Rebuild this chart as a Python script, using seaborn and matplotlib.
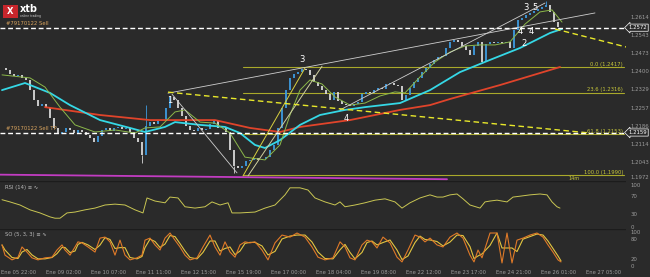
import numpy as np
import pandas as pd
import matplotlib
matplotlib.use("Agg")
import matplotlib.pyplot as plt
from matplotlib.patches import Rectangle
import matplotlib.transforms as mtransforms
import seaborn as sns

# ---------------- data (one bar = ~2.5 h) ----------------
close = [1.2413, 1.2405, 1.2389, 1.2382, 1.2386, 1.2374, 1.2366, 1.2326, 1.2287, 1.2263,
         1.2271, 1.2256, 1.2216, 1.2177, 1.2153, 1.2161, 1.2177, 1.2169, 1.2157, 1.2169,
         1.2161, 1.2149, 1.2137, 1.2122, 1.2145, 1.2169, 1.2177, 1.2165, 1.2177, 1.2181,
         1.2173, 1.2177, 1.2161, 1.2137, 1.2122, 1.2070, 1.2185, 1.2200, 1.2192, 1.2204,
         1.2208, 1.2256, 1.2299, 1.2287, 1.2256, 1.2224, 1.2185, 1.2169, 1.2165, 1.2177,
         1.2169, 1.2173, 1.2192, 1.2208, 1.2177, 1.2181, 1.2161, 1.2090, 1.2027, 1.2019,
         1.2027, 1.2047, 1.2051, 1.2059, 1.2051, 1.2055, 1.2062, 1.2090, 1.2110, 1.2177,
         1.2256, 1.2326, 1.2374, 1.2389, 1.2397, 1.2409, 1.2405, 1.2386, 1.2358, 1.2342,
         1.2326, 1.2311, 1.2287, 1.2319, 1.2283, 1.2271, 1.2267, 1.2263, 1.2271, 1.2279,
         1.2311, 1.2319, 1.2315, 1.2326, 1.2334, 1.2330, 1.2350, 1.2354, 1.2346, 1.2342,
         1.2287, 1.2307, 1.2334, 1.2358, 1.2374, 1.2397, 1.2413, 1.2429, 1.2445, 1.2456,
         1.2460, 1.2492, 1.2516, 1.2523, 1.2516, 1.2500, 1.2484, 1.2464, 1.2500, 1.2516,
         1.2437, 1.2508, 1.2516, 1.2512, 1.2516, 1.2512, 1.2516, 1.2492, 1.2563, 1.2602,
         1.2610, 1.2622, 1.2630, 1.2638, 1.2646, 1.2653, 1.2661, 1.2634, 1.2594, 1.2575]

# notable wicks (bar, extreme price)
wick_bar = [35, 36, 58, 120, 136]
wick_price = [1.2039, 1.2267, 1.2000, 1.2433, 1.2676]

cyan_t = [0, 5.75, 12, 17, 24.5, 32, 35.75, 40.75, 43.25, 49.5, 55.75, 59.5, 63.25,
          65.75, 69.5, 74.5, 79.5, 85.75, 90.75, 99.5, 107, 114.5, 122, 129.5, 137, 140]
cyan_v = [1.2326, 1.2354, 1.2315, 1.2267, 1.2208, 1.2177, 1.2161, 1.2181, 1.2200, 1.2189,
          1.2181, 1.2157, 1.2110, 1.2098, 1.2129, 1.2189, 1.2228, 1.2248, 1.2259, 1.2275,
          1.2326, 1.2397, 1.2445, 1.2492, 1.2551, 1.2567]

red_t = [10.75, 24.5, 37, 53.25, 62, 69.5, 74.5, 87, 99.5, 107, 112, 124.5, 139.5]
red_v = [1.2259, 1.2228, 1.2208, 1.2208, 1.2177, 1.2161, 1.2181, 1.2208, 1.2248, 1.2267,
         1.2291, 1.2346, 1.2417]

green_t = [0, 7, 10.75, 14.5, 18.25, 23.25, 28.25, 33.25, 35.75, 39.5, 43.25, 45.75, 49.5,
           53.25, 57, 60.75, 65.75, 69.5, 72, 74.5, 77, 80, 83.25, 87, 90.75, 94.5, 98.25,
           100.75, 104.5, 108.25, 112, 115.75, 119.5, 123.25, 127, 130.75, 134.5, 137.5, 140]
green_v = [1.2386, 1.2374, 1.2338, 1.2259, 1.2189, 1.2161, 1.2169, 1.2157, 1.2177, 1.2181,
           1.2240, 1.2248, 1.2200, 1.2196, 1.2157, 1.2062, 1.2051, 1.2110, 1.2228, 1.2326,
           1.2366, 1.2350, 1.2299, 1.2267, 1.2275, 1.2303, 1.2319, 1.2315, 1.2378, 1.2437,
           1.2476, 1.2500, 1.2504, 1.2504, 1.2516, 1.2586, 1.2634, 1.2642, 1.2594]

rsi_t = [0, 2, 4.5, 7, 9.5, 12, 13.25, 14.5, 16.25, 18.25, 20.75, 23.25, 25.75, 28.25,
         30.75, 33.25, 35.25, 36.25, 38.25, 40.75, 42, 44, 45.75, 48.25, 50.75, 52.5, 54.5,
         56.5, 57.5, 59.5, 63.25, 65.75, 68.25, 70.75, 72, 74.5, 76.5, 78.25, 80.75, 83.25,
         84.5, 85.75, 88.25, 90.75, 93.25, 95.75, 98.25, 100, 102, 104.5, 107, 108.75,
         110.25, 112, 113.75, 115.25, 117, 119.5, 120.75, 122, 123.75, 126.25, 127.75,
         129.5, 132, 134.5, 136.25, 137.5, 138.75, 139.5]
rsi_v = [62, 57, 50, 39, 32, 23, 20, 20, 32, 34, 39, 43, 50, 52, 50, 39, 32, 66, 59, 55,
         68, 66, 46, 43, 46, 57, 50, 55, 32, 32, 34, 43, 50, 73, 89, 89, 84, 66, 57, 50,
         57, 46, 50, 55, 61, 64, 57, 43, 55, 66, 73, 68, 68, 73, 75, 64, 50, 43, 57, 59,
         61, 57, 68, 70, 73, 75, 73, 57, 46, 43]

so_t = [0, 0.75, 2.5, 4, 5, 6.25, 7.5, 9, 10.75, 12.5, 13.75, 15, 15.75, 17, 18.25, 19,
        20, 21.5, 23.25, 24.5, 25.75, 27, 28.25, 29.5, 30.75, 32, 33.75, 35, 35.75, 37,
        38.25, 39.5, 40.75, 42, 43.25, 44.5, 45.75, 47, 48.75, 50.25, 52, 53.25, 54.5,
        55.75, 57, 58.25, 59.5, 60.75, 62, 63.25, 65, 66.5, 68.25, 70, 72, 73.75, 75.75,
        77.5, 79, 80.75, 82.75, 84.5, 85.75, 87, 88.25, 90, 91.25, 92.5, 93.75, 95.25, 97,
        98.75, 100, 101.5, 103.25, 104.5, 105.75, 107, 108.75, 110.25, 112, 113.75, 115.25,
        117, 118, 119, 120, 122, 123.75, 125, 126.25, 127.5, 128.75, 130.25, 132, 133.75,
        135.25, 136.5, 137.75, 139, 139.75]
so_v = [62, 32, 18, 26, 56, 41, 24, 18, 24, 26, 47, 62, 47, 32, 56, 71, 68, 56, 41, 82,
        85, 71, 32, 76, 32, 18, 24, 32, 76, 82, 62, 47, 82, 97, 76, 56, 32, 18, 24, 56,
        91, 56, 32, 71, 41, 26, 62, 71, 68, 71, 47, 18, 68, 91, 85, 97, 85, 56, 26, 18,
        24, 71, 56, 24, 18, 62, 76, 71, 53, 85, 68, 26, 12, 47, 91, 85, 71, 82, 62, 56,
        85, 97, 82, 32, 12, 47, 24, 97, 97, 9, 97, 9, 76, 82, 91, 97, 85, 62, 41, 18, 12]

price_ticks = [1.26145, 1.25435, 1.24735, 1.24005, 1.23295, 1.22575, 1.21865, 1.21145,
               1.20435, 1.19725]
price_labels = ["1.2614", "1.2543", "1.2473", "1.2400", "1.2329", "1.2257", "1.2186",
                "1.2114", "1.2043", "1.1972"]

time_labels = ["Ene 05 22:00", "Ene 09 02:00", "Ene 10 07:00", "Ene 11 11:00",
               "Ene 12 15:00", "Ene 15 19:00", "Ene 17 00:00", "Ene 18 04:00",
               "Ene 19 08:00", "Ene 22 12:00", "Ene 23 17:00", "Ene 24 21:00",
               "Ene 26 01:00", "Ene 27 05:00"]

fib_levels = [1.2417, 1.2316, 1.2153, 1.1990]
fib_names = ["0.0", "23.6", "61.8", "100.0"]

open_price = 1.2572
tp_price = 1.2159

# trend lines: (bar0, price0, bar1, price1)
yellow_dash_long = (41.5, 1.2318, 147.0, 1.2157)
yellow_dash_short = (138.25, 1.2567, 156.0, 1.2496)
gray_lines = [(41.5, 1.2314, 148.25, 1.2630),
              (42.5, 1.2310, 58.75, 1.2000),
              (84.5, 1.2248, 135.75, 1.2669)]
wave_lines = [(60.25, 1.1988, 75.75, 1.2413, "#d8d040"),
              (61.5, 1.1988, 80.0, 1.2420, "#d0d0a0")]
magenta_line = (-0.5, 1.1993, 111.25, 1.1975)

wave_labels = [("1", 42.0, 1.2287), ("3", 75.0, 1.2447), ("4", 86.0, 1.2214),
               ("3", 131.0, 1.2653), ("5", 133.2, 1.2653), ("4", 129.5, 1.2557),
               ("4", 132.2, 1.2557), ("2", 130.4, 1.2510)]

# ---------------- style ----------------
BG = "#2a2a2a"
TXT = "#9c9c9c"
sns.set_theme(style="dark", rc={"axes.facecolor": BG, "figure.facecolor": BG,
                                "savefig.facecolor": BG})
plt.rcParams['font.family'] = ['DejaVu Sans']

W, H = 650, 277
fig = plt.figure(figsize=(6.5, 2.77), dpi=100)


def box(x0, y0, x1, y1):
    return [x0 / W, 1 - y1 / H, (x1 - x0) / W, (y1 - y0) / H]


RIGHT = 626
ax = fig.add_axes(box(0, 0, RIGHT, 181))
ax_rsi = fig.add_axes(box(0, 181, RIGHT, 229), sharex=ax)
ax_so = fig.add_axes(box(0, 229, RIGHT, 269), sharex=ax)

for a in (ax, ax_rsi, ax_so):
    a.set_facecolor(BG)
    for s in a.spines.values():
        s.set_visible(False)
    a.grid(False)
    a.yaxis.tick_right()
    a.tick_params(axis="y", length=0, pad=3, labelsize=3.9, labelcolor=TXT,
                  labelleft=False, labelright=True)
    a.tick_params(axis="x", length=0)

ax.set_xlim(-0.5, 156.0)
ax.set_ylim(1.1968, 1.2681)

# magenta support line (below everything)
m = magenta_line
ax.plot([m[0], m[2]], [m[1], m[3]], color="#c23cc2", lw=1.3, zorder=1)

# fibonacci levels
for lvl, nm in zip(fib_levels, fib_names):
    ax.plot([60.25, 155.5], [lvl, lvl], color="#a9a92a", lw=0.8, zorder=2)
    ax.text(155.3, lvl + 0.0002, f"{nm} ({lvl:.4f})", color="#c8c83a", fontsize=3.8,
            ha="right", va="bottom", zorder=6)
ax.text(143, 1.1990 - 0.0003, "14m", color="#c8c83a", fontsize=3.5, ha="center",
        va="top", zorder=6)

# candles
bars = np.arange(len(close))
opens = [close[0]] + close[:-1]
df = pd.DataFrame({"bar": bars, "open": opens, "close": close})
df["lo"] = df[["open", "close"]].min(axis=1)
df["hi"] = df[["open", "close"]].max(axis=1) + 0.00012
up = df["close"] >= df["open"]
for b, p in zip(wick_bar, wick_price):
    ax.vlines(b, min(p, close[b]), max(p, close[b]),
              color="#3d9be0" if up[b] else "#d8d8d8", lw=0.6, zorder=3)
ax.vlines(df.loc[up, "bar"], df.loc[up, "lo"], df.loc[up, "hi"], color="#3d9be0",
          lw=1.3, zorder=3)
ax.vlines(df.loc[~up, "bar"], df.loc[~up, "lo"], df.loc[~up, "hi"], color="#d8d8d8",
          lw=1.3, zorder=3)

# moving averages
sns.lineplot(x=red_t, y=red_v, ax=ax, color="#e0442a", lw=1.3, zorder=4)
sns.lineplot(x=cyan_t, y=cyan_v, ax=ax, color="#35d8e6", lw=1.3, zorder=4)
sns.lineplot(x=green_t, y=green_v, ax=ax, color="#8cb84a", lw=0.7, zorder=4)

# trend lines
for g in gray_lines:
    ax.plot([g[0], g[2]], [g[1], g[3]], color="#cfcfcf", lw=0.6, zorder=5)
for w in wave_lines:
    ax.plot([w[0], w[2]], [w[1], w[3]], color=w[4], lw=0.7, zorder=5)
for t in (yellow_dash_long, yellow_dash_short):
    ax.plot([t[0], t[2]], [t[1], t[3]], color="#e8e82a", lw=1.0, dashes=(4, 2.5),
            zorder=5)

# open price / TP dashed lines
for p in (open_price, tp_price):
    ax.axhline(p, color="white", lw=1.0, dashes=(3.5, 2), zorder=5)
ax.annotate("#79170122 Sell", (1.0, open_price), xytext=(0, 1.5),
            textcoords="offset points", color="#d9a45e", fontsize=3.8, va="bottom")
ax.annotate("#79170122 Sell TP", (1.0, tp_price), xytext=(0, 1.0),
            textcoords="offset points", color="#d9a45e", fontsize=3.8, va="bottom")

# wave labels
for txt, b, p in wave_labels:
    ax.text(b, p, txt, color="white", fontsize=6, ha="center", va="center", zorder=7)

# price axis
ax.set_yticks(price_ticks)
ax.set_yticklabels(price_labels)
for lab in ax.get_yticklabels():
    if lab.get_text() == "1.1972":
        lab.set_va("bottom")
trans = mtransforms.blended_transform_factory(ax.transAxes, ax.transData)
for p in (open_price, tp_price):
    ax.text(1.004, p, f"{p:.4f}", transform=trans, color="white", fontsize=3.9,
            ha="left", va="center", zorder=8, clip_on=False,
            bbox=dict(boxstyle="larrow,pad=0.2", fc=BG, ec="white", lw=0.5))

# RSI panel
ax_rsi.set_ylim(-4.5, 104.5)
sns.lineplot(x=rsi_t, y=rsi_v, ax=ax_rsi, color="#c9c653", lw=0.7)
ax_rsi.set_yticks([0, 30, 70, 100])
ax_rsi.set_yticklabels(["0", "30", "70", "100"])
for lab in ax_rsi.get_yticklabels():
    if lab.get_text() == "100":
        lab.set_va("top")
ax_rsi.text(0.008, 0.86, "RSI (14) ≡ ∿", transform=ax_rsi.transAxes, color="#b8b8b8",
            fontsize=3.8, va="center")

# SO panel
ax_so.set_ylim(-8.8, 108.8)
so_sig = pd.Series(so_v).rolling(2, min_periods=1).mean().to_list()
sns.lineplot(x=so_t, y=so_sig, ax=ax_so, color="#e3c640", lw=0.8)
sns.lineplot(x=so_t, y=so_v, ax=ax_so, color="#e07a28", lw=0.8)
ax_so.set_yticks([0, 20, 80, 100])
ax_so.set_yticklabels(["0", "20", "80", "100"])
ax_so.text(0.008, 0.86, "SO (5, 3, 3) ≡ ∿", transform=ax_so.transAxes, color="#b8b8b8",
           fontsize=3.8, va="center")

for a in (ax, ax_rsi, ax_so):
    a.set_xlabel("")
    a.set_ylabel("")

# panel separators
for a in (ax_rsi, ax_so):
    a.axhline(a.get_ylim()[1], color="#1c1c1c", lw=1.0)

# time axis
tick_pos = [-0.25 + 11.25 * k for k in range(len(time_labels))]
ax_so.set_xticks(tick_pos)
ax_so.set_xticklabels(time_labels, fontsize=3.8, color=TXT, ha="left")
ax_so.tick_params(axis="x", pad=1.0)
ax.tick_params(axis="x", labelbottom=False)
ax_rsi.tick_params(axis="x", labelbottom=False)

# logo
fig.patches.append(Rectangle((3 / W, 1 - 18 / H), 15 / W, 13 / H, transform=fig.transFigure,
                             fc="#c8262c", ec="none"))
fig.text(10.5 / W, 1 - 11.5 / H, "X", color="white", fontsize=6, fontweight="bold",
         ha="center", va="center")
fig.text(20 / W, 1 - 9 / H, "xtb", color="white", fontsize=7, fontweight="bold",
         ha="left", va="center")
fig.text(20 / W, 1 - 16 / H, "online trading", color="#cccccc", fontsize=2.2,
         ha="left", va="center")

fig.savefig("out.png", dpi=100, facecolor=BG)
